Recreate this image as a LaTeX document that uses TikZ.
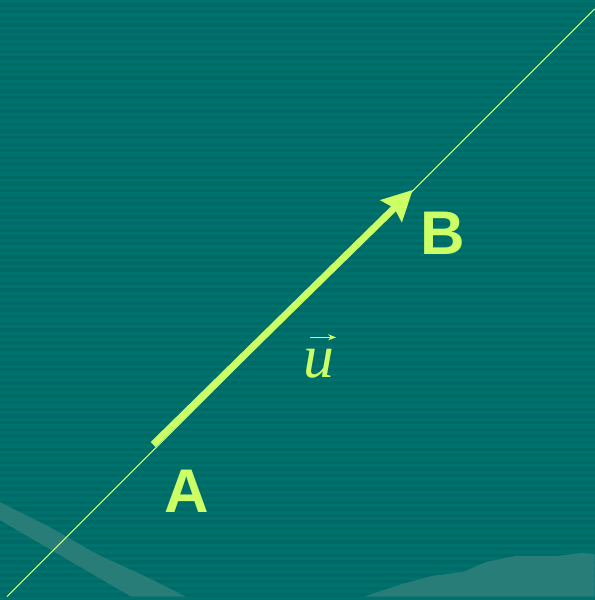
\documentclass[tikz,border=0pt]{standalone}
\usepackage{fontspec}
\setmainfont{Liberation Sans}
\newfontfamily\serifit{Liberation Serif}
\usetikzlibrary{arrows.meta,calc}
\definecolor{bg}{HTML}{006A66}
\definecolor{stripe}{HTML}{00726E}
\definecolor{lime}{HTML}{CCFF66}
\definecolor{hill}{HTML}{287D79}
\begin{document}
\begin{tikzpicture}[x=1pt,y=-1pt,
  lbl/.style={text=lime,font=\bfseries\fontsize{62}{62}\selectfont,inner sep=0pt},
  vlbl/.style={text=lime,font=\serifit\itshape\fontsize{62}{62}\selectfont,inner sep=0pt},
  hillshape/.style={fill=hill},
  thinline/.style={draw=lime,line width=1pt},
  vecarrow/.style={draw=lime,line width=7pt,-{Stealth[length=30pt,width=30pt,inset=4pt]}}]
\fill[bg] (0,0) rectangle (598,600);
\foreach \i in {0,...,90} \fill[stripe] (0,\i*6.667) rectangle (598,\i*6.667+3.3);
\useasboundingbox (0,0) rectangle (598,600);
% hills
\fill[hillshape] (0,505) -- (50,530) -- (99,558) -- (145,579) -- (187,600) -- (132,600) -- (0,523) -- cycle;
\fill[hillshape] (366,600) -- (405,587) -- (435,579) -- (466,575) -- (489,565) -- (519,559) -- (561,559) -- (584,556) -- (598,557) -- (598,600) -- cycle;
% line
\coordinate (p0) at (7,600);
\coordinate (p1) at (598,9);
\draw[thinline] (p0) -- (p1);
% vector
\coordinate (a) at (154,447);
\coordinate (b) at (415,191);
\draw[vecarrow] (a) -- (b);
% labels
\node[lbl] (A) at (187.5,494) {A};
\node[lbl] (B) at (445.5,235) {B};
\node[vlbl] (u) at (321,366) {u};
\draw[draw=lime,line width=1.3pt,-{Stealth[length=8pt,width=6pt]}] ($(u.north)+(-9,-12)$) -- ($(u.north)+(17,-12)$);
\end{tikzpicture}
\end{document}
